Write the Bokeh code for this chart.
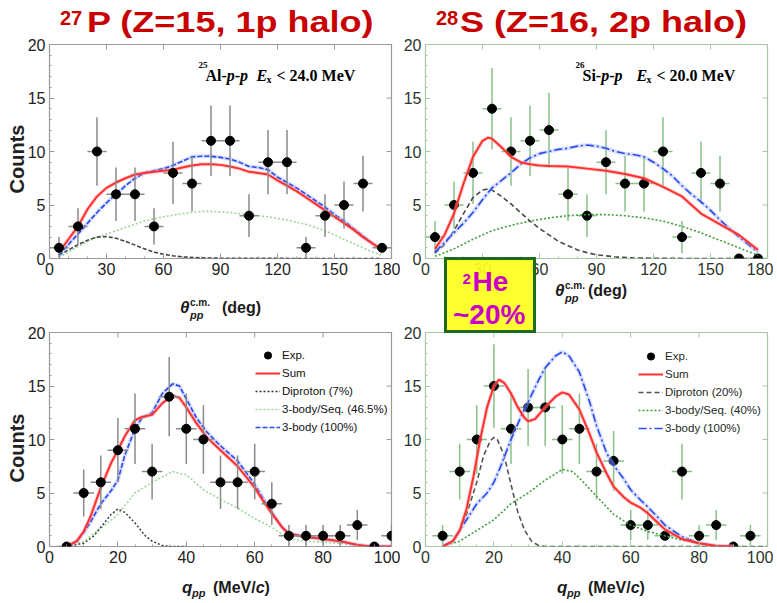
import numpy as np
from bokeh.plotting import figure
from bokeh.layouts import column, row
from bokeh.models import Range1d, Label, Legend, LegendItem, FixedTicker, Div
from bokeh.embed import file_html
from bokeh.resources import INLINE

# ---------------- data ----------------
# 27P  theta_pp
tl_x = [5, 15, 25, 35, 45, 55, 65, 75, 85, 95, 105, 115, 125, 135, 145, 155, 165, 175]
tl_y = [1, 3, 10, 6, 6, 3, 8, 7, 11, 11, 4, 9, 9, 1, 4, 5, 7, 1]
tl_err = [1.0, 1.7, 3.2, 2.5, 2.5, 1.7, 2.9, 2.6, 3.3, 3.3, 2.0, 3.0, 3.0, 1.0, 2.0, 2.2, 2.6, 0.0]
tl_sum_x = [5, 10, 15, 20, 25, 30, 35, 40, 45, 50, 55, 60, 65, 70, 75, 80, 85, 90, 95, 100, 105, 110, 115, 120, 125, 130, 135, 140, 145, 150, 155, 160, 165, 170, 175]
tl_sum_y = [0.6, 1.8, 3.0, 4.6, 5.8, 6.6, 7.1, 7.5, 7.85, 8.0, 8.1, 8.2, 8.3, 8.5, 8.7, 8.8, 8.8, 8.75, 8.6, 8.4, 8.1, 8.0, 7.85, 7.3, 6.8, 6.3, 5.7, 5.1, 4.5, 3.9, 3.3, 2.7, 2.0, 1.4, 0.8]
tl_3b_y = [0.3, 1.3, 2.3, 3.3, 4.3, 5.2, 6.0, 6.8, 7.5, 8.0, 8.2, 8.4, 8.7, 9.1, 9.5, 9.55, 9.55, 9.45, 9.3, 9.0, 8.6, 8.5, 8.3, 7.6, 7.1, 6.6, 6.0, 5.4, 4.8, 4.1, 3.5, 2.8, 2.1, 1.4, 0.8]
tl_seq_y = [0.1, 0.6, 1.1, 1.6, 2.0, 2.3, 2.6, 2.9, 3.2, 3.5, 3.7, 3.9, 4.05, 4.2, 4.3, 4.4, 4.4, 4.35, 4.3, 4.2, 4.1, 4.0, 3.9, 3.75, 3.6, 3.4, 3.2, 2.9, 2.6, 2.2, 1.8, 1.4, 1.0, 0.6, 0.3]
tl_dip_x = [5, 10, 15, 20, 25, 30, 35, 40, 45, 50, 55, 60, 65, 70, 80, 90, 100, 120, 140, 175]
tl_dip_y = [0.3, 0.8, 1.3, 1.7, 2.0, 2.05, 1.9, 1.6, 1.25, 0.9, 0.6, 0.4, 0.25, 0.15, 0.06, 0.03, 0.02, 0.01, 0.0, 0.0]

# 28S  theta_pp
tr_x = [5, 15, 25, 35, 45, 55, 65, 75, 85, 95, 105, 115, 125, 135, 145, 155, 165, 175]
tr_y = [2, 5, 8, 14, 10, 11, 12, 6, 4, 9, 7, 7, 10, 2, 8, 7, 0, 0]
tr_err = [1.5, 2.2, 2.9, 3.8, 3.2, 3.3, 3.5, 2.5, 2.0, 3.0, 2.6, 2.6, 3.2, 1.5, 2.9, 2.6, 0.0, 0.0]
tr_sum_x = [5, 10, 15, 20, 25, 30, 33, 35, 40, 45, 50, 55, 60, 65, 75, 85, 95, 105, 115, 125, 135, 140, 145, 155, 165, 175]
tr_sum_y = [0.9, 2.2, 4.2, 7.0, 9.5, 11.0, 11.3, 11.2, 10.4, 9.5, 9.0, 8.8, 8.7, 8.65, 8.6, 8.4, 8.2, 7.9, 7.5, 6.7, 5.8, 5.0, 4.2, 3.2, 2.2, 0.8]
tr_3b_x = [5, 10, 15, 20, 25, 30, 35, 40, 45, 50, 55, 60, 65, 70, 75, 80, 85, 90, 95, 100, 105, 110, 115, 120, 125, 130, 135, 140, 145, 150, 155, 160, 165, 170, 175]
tr_3b_y = [0.6, 1.5, 2.4, 3.3, 4.3, 5.5, 6.6, 7.3, 8.0, 8.8, 9.4, 9.8, 10.0, 10.2, 10.3, 10.5, 10.6, 10.5, 10.3, 10.0, 9.8, 9.7, 9.5, 9.0, 8.4, 7.7, 6.8, 6.0, 5.3, 4.5, 3.6, 2.8, 2.0, 1.3, 0.6]
tr_dip_x = [5, 10, 15, 20, 25, 30, 33, 35, 40, 45, 50, 55, 60, 65, 70, 75, 80, 85, 90, 100, 110, 120, 140, 175]
tr_dip_y = [0.5, 1.3, 2.6, 4.2, 5.7, 6.4, 6.5, 6.4, 5.8, 5.1, 4.3, 3.5, 2.8, 2.2, 1.6, 1.2, 0.8, 0.55, 0.35, 0.15, 0.05, 0.02, 0.0, 0.0]
tr_seq_x = [5, 15, 25, 35, 45, 55, 65, 75, 85, 95, 105, 115, 125, 135, 145, 155, 165, 175]
tr_seq_y = [0.2, 0.9, 1.8, 2.6, 3.1, 3.5, 3.8, 4.0, 4.1, 4.1, 4.0, 3.8, 3.5, 3.0, 2.4, 1.7, 1.0, 0.3]

# 27P  q_pp
bl_x = [5, 10, 15, 20, 25, 30, 35, 40, 45, 50, 55, 60, 65, 70, 75, 80, 85, 90, 95, 100]
bl_y = [0, 5, 6, 9, 11, 7, 14, 11, 10, 6, 6, 7, 4, 1, 1, 1, 1, 2, 0, 1]
bl_err = [0.0, 2.2, 2.5, 3.0, 3.3, 2.6, 3.7, 3.3, 3.2, 2.5, 2.5, 2.6, 2.0, 1.0, 1.0, 1.0, 1.0, 1.4, 0.0, 1.0]
bl_sum_x = [5, 8, 10, 12, 15, 18, 20, 22, 25, 27, 30, 33, 36, 38, 40, 43, 46, 50, 55, 60, 63, 65, 68, 70, 75, 80, 85, 90, 94, 100]
bl_sum_y = [0.0, 0.5, 1.4, 2.8, 5.5, 7.8, 9.0, 10.3, 11.8, 12.1, 12.3, 13.4, 14.1, 13.9, 13.0, 11.5, 10.2, 9.0, 7.5, 5.5, 4.0, 3.1, 1.8, 1.2, 0.9, 0.7, 0.5, 0.15, 0.0, 0.0]
bl_3b_y = [0.0, 0.5, 1.3, 2.3, 4.0, 5.2, 6.2, 8.5, 11.0, 12.0, 12.5, 14.3, 15.2, 15.0, 13.8, 12.0, 10.7, 9.4, 8.0, 5.8, 4.2, 3.2, 1.8, 1.2, 0.9, 0.7, 0.5, 0.15, 0.0, 0.0]
bl_seq_x = [5, 10, 15, 20, 25, 30, 33, 36, 40, 45, 50, 55, 60, 65, 70, 75, 80, 85, 90, 95]
bl_seq_y = [0.0, 0.5, 1.7, 3.0, 5.0, 6.0, 6.5, 7.0, 6.7, 5.3, 4.4, 3.6, 2.6, 1.8, 0.7, 0.5, 0.4, 0.3, 0.1, 0.0]
bl_dip_x = [5, 10, 13, 15, 18, 20, 22, 25, 28, 30, 33, 35, 40]
bl_dip_y = [0.0, 0.3, 1.0, 1.8, 3.0, 3.5, 3.2, 2.2, 1.0, 0.5, 0.1, 0.0, 0.0]

# 28S  q_pp
br_x = [5, 10, 15, 20, 25, 30, 35, 40, 45, 50, 55, 60, 65, 70, 75, 80, 85, 90, 95]
br_y = [1, 7, 10, 15, 11, 13, 13, 10, 11, 7, 8, 2, 2, 1, 7, 1, 2, 0, 1]
br_err = [1.0, 2.6, 3.2, 3.9, 3.3, 3.6, 3.6, 3.2, 3.3, 2.6, 2.8, 1.4, 1.4, 0.0, 2.6, 1.0, 1.4, 0.0, 1.0]
br_sum_x = [5, 8, 10, 12, 14, 16, 18, 20, 21.5, 23, 25, 27, 29, 30, 32, 35, 38, 40, 42, 45, 48, 50, 53, 55, 58, 60, 63, 65, 68, 70, 75, 80, 85, 90]
br_sum_y = [0.0, 0.5, 1.5, 3.5, 6.5, 10.0, 13.0, 15.0, 15.6, 15.3, 14.3, 13.0, 12.0, 11.7, 11.9, 13.0, 14.0, 14.4, 14.2, 12.8, 10.5, 8.8, 6.8, 5.6, 4.6, 4.1, 3.6, 3.1, 2.2, 1.6, 0.7, 0.3, 0.05, 0.0]
br_3b_x = [5, 8, 10, 12, 15, 18, 20, 22, 25, 28, 30, 33, 35, 38, 40, 42, 45, 48, 50, 53, 55, 58, 60, 63, 65, 68, 70, 75, 80, 85, 90]
br_3b_y = [0.0, 0.5, 1.5, 2.5, 4.0, 5.0, 6.0, 7.5, 10.0, 12.2, 13.5, 15.5, 16.7, 17.8, 18.2, 17.8, 16.3, 13.5, 11.3, 8.7, 7.6, 6.3, 5.3, 4.3, 3.7, 2.7, 2.0, 0.9, 0.3, 0.05, 0.0]
br_dip_x = [5, 8, 10, 12, 15, 17, 19, 20, 21, 23, 25, 27, 29, 31, 33, 35, 100]
br_dip_y = [0.0, 0.5, 1.5, 3.0, 6.0, 8.5, 9.9, 10.2, 10.0, 8.5, 5.8, 3.2, 1.5, 0.5, 0.1, 0.0, 0.0]
br_seq_x = [5, 10, 15, 20, 25, 30, 35, 40, 43, 45, 50, 55, 60, 65, 70, 75, 80, 85, 90]
br_seq_y = [0.0, 0.5, 1.5, 2.5, 4.0, 5.0, 6.2, 7.2, 7.0, 6.4, 4.7, 3.0, 2.0, 1.4, 1.0, 0.6, 0.3, 0.1, 0.0]

theta_ticks = [0, 30, 60, 90, 120, 150, 180]
theta_minor = list(range(0, 181, 10))
q_ticks = [0, 20, 40, 60, 80, 100]
q_minor = list(range(0, 101, 5))
count_ticks = [0, 5, 10, 15, 20]
count_minor = list(range(0, 21))

# ---------------- geometry (px, picture coordinates) ----------------
W_TOTAL, H_TOTAL = 773, 600
LW, RW = 400, 373
TH, BH = 300, 300
L_BL, L_BR = 49, 9
R_BL, R_BR = 25, 6
T_BT, T_BB = 44, 42
B_BT, B_BB = 32, 54

TICK_FONT = "Liberation Sans"


class Panel:
    def __init__(self, x0, y0, w, h, bl, br, bt, bb, xmax, xticks, xminor, frame_col, lab_col):
        self.FL = x0 + bl
        self.FB = y0 + h - bb
        fw, fh = w - bl - br, h - bt - bb
        p = figure(width=w, height=h, x_range=Range1d(0, xmax), y_range=Range1d(0, 20),
                   output_backend="svg", toolbar_location=None,
                   min_border_left=bl, min_border_right=br, min_border_top=bt, min_border_bottom=bb)
        p.xgrid.visible = False
        p.ygrid.visible = False
        p.outline_line_color = frame_col
        p.outline_line_width = 1.2
        p.background_fill_color = "white"
        p.border_fill_color = "white"
        p.xaxis.ticker = FixedTicker(ticks=xticks, minor_ticks=xminor)
        p.yaxis.ticker = FixedTicker(ticks=count_ticks, minor_ticks=count_minor)
        for ax in p.axis:
            ax.axis_line_color = None
            ax.major_tick_line_color = frame_col
            ax.minor_tick_line_color = frame_col
            ax.major_tick_in = 5
            ax.major_tick_out = 0
            ax.minor_tick_in = 2
            ax.minor_tick_out = 0
            ax.major_label_text_font = TICK_FONT
            ax.major_label_text_font_size = "16px"
            ax.major_label_text_color = lab_col
            ax.major_label_standoff = 4
        # inward ticks on the top and right edges of the frame
        xt = np.array(xticks, float)
        yt = np.array(count_ticks, float)
        dy = 20 * 5 / fh
        dx = xmax * 5 / fw
        p.segment(x0=xt, y0=np.full_like(xt, 20), x1=xt, y1=np.full_like(xt, 20 - dy),
                  line_color=frame_col, line_width=1)
        p.segment(x0=np.full_like(yt, xmax), y0=yt, x1=np.full_like(yt, xmax - dx), y1=yt,
                  line_color=frame_col, line_width=1)
        self.p = p

    def lab(self, px, py, text, size, color="black", style="bold", font="Liberation Serif"):
        self.p.add_layout(Label(x=px - self.FL, y=self.FB - py, x_units="screen", y_units="screen",
                                text=text, text_font=font, text_font_size=f"{size}px",
                                text_font_style=style, text_color=color, text_align="left",
                                text_baseline="alphabetic"))


def points(p, x, y, err, xerr, bar_col):
    x = np.array(x, float)
    y = np.array(y, float)
    e = np.array(err, float)
    p.segment(x0=x, y0=y - e, x1=x, y1=y + e, line_color=bar_col, line_width=1.5)
    p.segment(x0=x - xerr, y0=y, x1=x + xerr, y1=y, line_color=bar_col, line_width=1.5)
    return p.scatter(x, y, size=9, color="black")


def curve(p, x, y, color, dash, width=1.6, halo=None):
    if halo is not None:
        p.line(x, y, line_color=halo, line_width=4, line_alpha=0.45)
    return p.line(x, y, line_color=color, line_width=width, line_dash=dash)


RED = "#ff3030"
RED_HALO = "#ff9a9a"
BLUE = "#2848f0"
BLUE_HALO = "#a8b8ff"
GREY_FRAME, GREEN_FRAME = "#9a9a9a", "#a6c8a6"

TL = Panel(0, 0, LW, TH, L_BL, L_BR, T_BT, T_BB, 180, theta_ticks, theta_minor, GREY_FRAME, "#222222")
TR = Panel(LW, 0, RW, TH, R_BL, R_BR, T_BT, T_BB, 180, theta_ticks, theta_minor, GREEN_FRAME, "#2a352a")
BL = Panel(0, TH, LW, BH, L_BL, L_BR, B_BT, B_BB, 100, q_ticks, q_minor, GREY_FRAME, "#222222")
BR = Panel(LW, TH, RW, BH, R_BL, R_BR, B_BT, B_BB, 100, q_ticks, q_minor, GREEN_FRAME, "#2a352a")

# ---------------- top-left ----------------
tl = TL.p
curve(tl, tl_sum_x, tl_seq_y, "#9ad89a", "2 2", 1.6)
curve(tl, tl_dip_x, tl_dip_y, "#444444", "4 2", 1.6)
curve(tl, tl_sum_x, tl_3b_y, BLUE, "5 2", 1.6, BLUE_HALO)
curve(tl, tl_sum_x, tl_sum_y, RED, "solid", 2, RED_HALO)
points(tl, tl_x, tl_y, tl_err, 5, "#8a8a8a")

# ---------------- top-right ----------------
tr = TR.p
points(tr, tr_x, tr_y, tr_err, 5, "#88c088")
curve(tr, tr_seq_x, tr_seq_y, "#3fa03f", "2 2", 1.6)
curve(tr, tr_dip_x, tr_dip_y, "#4a4a4a", "5 3", 1.6)
curve(tr, tr_3b_x, tr_3b_y, BLUE, "8 3 2 3", 1.6, BLUE_HALO)
curve(tr, tr_sum_x, tr_sum_y, RED, "solid", 2, RED_HALO)

# ---------------- bottom-left ----------------
bl = BL.p
r_seq = curve(bl, bl_seq_x, bl_seq_y, "#9ad89a", "2 2", 1.6)
r_dip = curve(bl, bl_dip_x, bl_dip_y, "#333333", "2 2", 1.4)
r_3b = curve(bl, bl_sum_x, bl_3b_y, BLUE, "5 2", 1.6, BLUE_HALO)
r_sum = curve(bl, bl_sum_x, bl_sum_y, RED, "solid", 2, RED_HALO)
r_exp = points(bl, bl_x, bl_y, bl_err, 3, "#8a8a8a")

# ---------------- bottom-right ----------------
br = BR.p
rb_exp = points(br, br_x, br_y, br_err, 3, "#88c088")
rb_seq = curve(br, br_seq_x, br_seq_y, "#3fa03f", "2 2", 1.6)
rb_dip = curve(br, br_dip_x, br_dip_y, "#4a5a4a", "5 3", 1.6)
rb_3b = curve(br, br_3b_x, br_3b_y, BLUE, "8 3 2 3", 1.6, BLUE_HALO)
rb_sum = curve(br, br_sum_x, br_sum_y, RED, "solid", 2, RED_HALO)


def legend(p, items, loc, col):
    lg = Legend(items=[LegendItem(label=t, renderers=[r]) for t, r in items], location=loc,
                padding=0, spacing=0, margin=0, label_height=18, glyph_height=18, glyph_width=25,
                label_standoff=2, label_text_font=TICK_FONT, label_text_font_size="11.5px",
                label_text_color=col, border_line_alpha=0, background_fill_alpha=0)
    p.add_layout(lg, "center")


legend(bl, [("Exp.", r_exp), ("Sum", r_sum), ("Diproton (7%)", r_dip),
            ("3-body/Seq. (46.5%)", r_seq), ("3-body (100%)", r_3b)], (206, 110), "#111111")
legend(br, [("Exp.", rb_exp), ("Sum", rb_sum), ("Diproton (20%)", rb_dip),
            ("3-body/Seq. (40%)", rb_seq), ("3-body (100%)", rb_3b)], (213, 109), "#1e2a1e")

# ---------------- in-frame reaction labels ----------------
for P, nuc, pre, ex, xs in ((TL, "25", "Al-", "< 24.0 MeV", [198, 205, 226.3, 234.3, 239.6, 256, 266, 276]),
                            (TR, "26", "Si-", "< 20.0 MeV", [575, 582, 600.7, 608.7, 614, 636, 646, 656])):
    P.lab(xs[0], 64, nuc, 9)
    P.lab(xs[1], 75, pre, 16)
    P.lab(xs[2], 75, "p", 16, style="bold italic")
    P.lab(xs[3], 75, "-", 16)
    P.lab(xs[4], 75, "p", 16, style="bold italic")
    P.lab(xs[5], 75, "E", 16, style="bold italic")
    P.lab(xs[6], 79, "x", 10)
    P.lab(xs[7], 75, ex, 16)

# ---------------- texts outside the plot frames (HTML overlay) ----------------
TITLE = "#c80000"
AX = "#1a1a1a"
MAG = "#c800c8"


def span(x, base, text, size, color=AX, weight="bold", style="normal", scale=1.0):
    top = base - 0.8465 * size
    return (f'<span style="position:absolute;left:{x:.1f}px;top:{top:.1f}px;'
            f"font-family:'Liberation Sans';font-size:{size}px;line-height:{size}px;"
            f'font-weight:{weight};font-style:{style};color:{color};white-space:nowrap;'
            f'transform:scaleX({scale});transform-origin:0 0;">{text}</span>')


def vspan(cx, cy, text, size, color="#222222"):
    return (f'<span style="position:absolute;left:{cx}px;top:{cy}px;'
            f'transform:translate(-50%,-50%) rotate(-90deg);'
            f"font-family:'Liberation Sans';font-size:{size}px;line-height:{size}px;"
            f'font-weight:bold;color:{color};white-space:nowrap;">{text}</span>')


parts = []
# titles
parts.append(span(60, 25, "27", 20, TITLE))
parts.append(span(86.5, 32, "P (Z=15, 1p halo)", 30, TITLE, scale=1.2))
parts.append(span(436, 25, "28", 20, TITLE))
parts.append(span(460, 32, "S (Z=16, 2p halo)", 30, TITLE, scale=1.2))
# y labels
parts.append(vspan(17, 159, "Counts", 20))
parts.append(vspan(17, 448, "Counts", 20))
# x labels (theta)
for x0, b in ((180, 313), (555, 296)):
    parts.append(span(x0, b, "θ", 17, style="italic"))
    parts.append(span(x0 + 10, b - 7, "c.m.", 10))
    parts.append(span(x0 + 10, b + 6, "pp", 11, style="italic"))
parts.append(span(222, 313, "(deg)", 16))
parts.append(span(588, 296, "(deg)", 16))
# x labels (q)
for x0 in (182, 557):
    parts.append(span(x0, 593, "q", 17, style="italic"))
    parts.append(span(x0 + 10, 597, "pp", 11, style="italic"))
    parts.append(span(x0 + 31, 593, "(MeV/<i>c</i>)", 16))
# 2He box
parts.append('<div style="position:absolute;left:444px;top:257px;width:92px;height:76px;'
             'box-sizing:border-box;border:3px solid #1d6b1d;background:rgba(255,255,30,0.92);"></div>')
parts.append(span(462.5, 284, "2", 15, MAG))
parts.append(span(472.5, 292, "He", 28, MAG))
parts.append(span(453, 325, "~20%", 28, MAG))

overlay_html = (f'<div style="position:relative;width:{W_TOTAL}px;height:{H_TOTAL}px;">'
                + "".join(parts) + "</div>")
overlay = Div(text=overlay_html, width=W_TOTAL, height=H_TOTAL, margin=0,
              styles={"position": "absolute", "left": "0px", "top": "0px",
                      "pointer-events": "none", "z-index": "10"})

layout = column(row(tl, tr), row(bl, br), overlay)
open("out.html", "w").write(file_html(layout, INLINE))
